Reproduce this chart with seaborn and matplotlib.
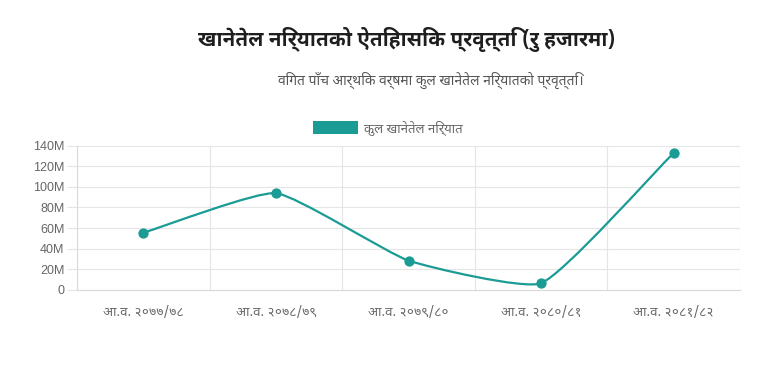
import numpy as np
import pandas as pd
import matplotlib
matplotlib.use("Agg")
import matplotlib.pyplot as plt
from matplotlib import font_manager
from matplotlib.path import Path
from matplotlib.patches import PathPatch, Rectangle
import seaborn as sns

# ---------------- data ----------------
categories = ["आ.व. २०७७/७८", "आ.व. २०७८/७९", "आ.व. २०७९/८०", "आ.व. २०८०/८१", "आ.व. २०८१/८२"]
export_values = [55.5e6, 93.8e6, 28.5e6, 6.6e6, 132.8e6]
y_ticks = [0, 20e6, 40e6, 60e6, 80e6, 100e6, 120e6, 140e6]
y_tick_labels = ["0", "20M", "40M", "60M", "80M", "100M", "120M", "140M"]
series_label = "कुल खानेतेल निर्यात"
title_text = "खानेतेल निर्यातको ऐतिहासिक प्रवृत्ति (रु हजारमा)"
subtitle_text = "विगत पाँच आर्थिक वर्षमा कुल खानेतेल निर्यातको प्रवृत्ति।"

TEAL = "#1a9c95"

# -------------- font detection (Devanagari) --------------
def find_deva_fonts():
    try:
        from fontTools.ttLib import TTFont
    except Exception:
        return []
    found = []
    for f in font_manager.findSystemFonts():
        try:
            tt = TTFont(f, fontNumber=0, lazy=True)
            cmap = tt.getBestCmap()
            if cmap and 0x0915 in cmap and 0x093F in cmap:
                ft = font_manager.get_font(f)
                found.append((f, ft.family_name, ft.style_name))
        except Exception:
            pass
    return found

cands = find_deva_fonts()

def score(fam):
    s = 0
    lf = fam.lower()
    if "noto sans devanagari" in lf:
        s += 10
    if "mono" in lf or "serif" in lf or "free" in lf:
        s -= 8
    if " ui" in lf:
        s -= 2
    return s

families_reg = ["DejaVu Sans"]
if cands:
    for f, fam, sty in cands:
        try:
            font_manager.fontManager.addfont(f)
        except Exception:
            pass
    fams = {}
    for f, fam, sty in cands:
        fams.setdefault(fam, set()).add(sty.lower())
    ranked = sorted(fams.keys(), key=lambda fm: (-(score(fm) + (3 if ("bold" in fams[fm] and "regular" in fams[fm]) else 0)), fm))
    families_reg = [ranked[0], "DejaVu Sans"]

sns.set_theme(style="white")
plt.rcParams["font.family"] = families_reg

df = pd.DataFrame({"वर्ष": categories, "निर्यात": export_values})

fig = plt.figure(figsize=(7.68, 3.87), dpi=100, facecolor="white")
L, R, B, T = 77 / 768, 740 / 768, (387 - 290) / 387, (387 - 145.5) / 387
ax = fig.add_axes([L, B, R - L, T - B])
ax.set_facecolor("white")

# markers via seaborn
sns.scatterplot(data=df, x="वर्ष", y="निर्यात", ax=ax, color=TEAL, s=55,
                edgecolor=TEAL, linewidth=0, zorder=5, legend=False)

ax.set_xlim(-0.5, len(categories) - 0.5)
ax.set_ylim(0, 140e6)

# smooth line (Chart.js-like bezier) computed from the data through the axes transform
fig.canvas.draw()
xs = np.arange(len(export_values), dtype=float)
ys = np.array(export_values, dtype=float)
pts = ax.transData.transform(np.column_stack([xs, ys]))
tension = 0.15
n = len(pts)
cp_prev = np.zeros_like(pts)
cp_next = np.zeros_like(pts)
for i in range(n):
    prev = pts[i - 1] if i > 0 else pts[i]
    cur = pts[i]
    nxt = pts[i + 1] if i < n - 1 else pts[i]
    d01 = np.hypot(*(cur - prev))
    d12 = np.hypot(*(nxt - cur))
    tot = d01 + d12
    s01 = d01 / tot if tot else 0
    s12 = d12 / tot if tot else 0
    fa, fb = tension * s01, tension * s12
    cp_prev[i] = cur - fa * (nxt - prev)
    cp_next[i] = cur + fb * (nxt - prev)
verts = [pts[0]]
codes = [Path.MOVETO]
for i in range(n - 1):
    verts += [cp_next[i], cp_prev[i + 1], pts[i + 1]]
    codes += [Path.CURVE4] * 3
verts = ax.transData.inverted().transform(np.array(verts))
ax.add_patch(PathPatch(Path(verts, codes), facecolor="none", edgecolor=TEAL,
                       lw=1.6, zorder=4, capstyle="round", joinstyle="round"))

# axes styling
GRID = "#e5e5e5"
ax.set_yticks(y_ticks)
ax.set_yticklabels(y_tick_labels, family=["Liberation Sans", "DejaVu Sans"],
                   fontsize=9, color="#666666")
ax.set_xticks(range(len(categories)))
ax.set_xticklabels(categories, fontsize=9.5, color="#666666")
ax.set_xticks(np.arange(-0.5, len(categories)), minor=True)
ax.tick_params(axis="x", which="major", length=0, pad=11.5)
ax.tick_params(axis="x", which="minor", length=7, color=GRID, width=0.8)
ax.tick_params(axis="y", which="major", length=7, color=GRID, width=0.8, pad=2, left=True)
ax.yaxis.grid(True, color=GRID, lw=0.8)
ax.xaxis.grid(True, which="minor", color=GRID, lw=0.8)
ax.xaxis.grid(False, which="major")
ax.set_axisbelow(True)
for side in ["left", "bottom"]:
    ax.spines[side].set_color("#d9d9d9")
    ax.spines[side].set_linewidth(0.8)
for side in ["top", "right"]:
    ax.spines[side].set_visible(False)
ax.set_xlabel("")
ax.set_ylabel("")

# titles
fig.text(407 / 768, 1 - 40 / 387, title_text, ha="center", va="center",
         fontsize=14.8, fontweight="bold", color="#1e1e1e")
fig.text(431 / 768, 1 - 80 / 387, subtitle_text, ha="center", va="center",
         fontsize=10, color="#555555")

# legend
fig.patches.append(Rectangle((313 / 768, 1 - 134 / 387), 45 / 768, 13 / 387,
                             transform=fig.transFigure, facecolor=TEAL,
                             edgecolor="none"))
fig.text(364 / 768, 1 - 128 / 387, series_label, ha="left", va="center",
         fontsize=9.5, color="#666666")

fig.savefig("out.png", dpi=100, facecolor="white")
